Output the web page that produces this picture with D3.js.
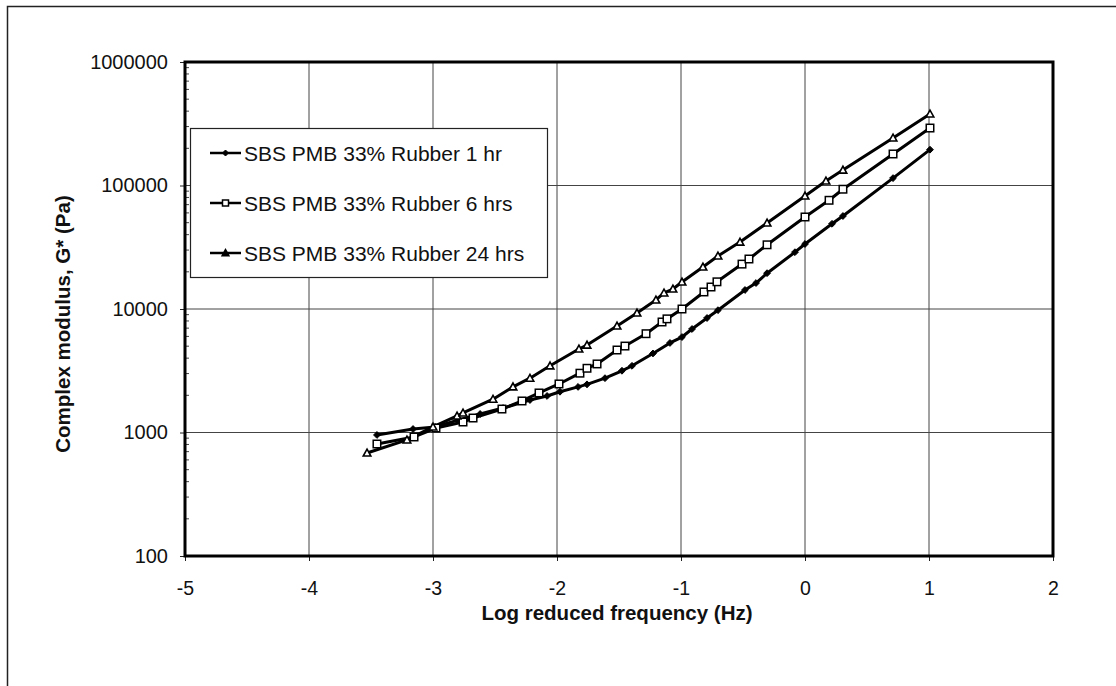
<!DOCTYPE html>
<html>
<head>
<meta charset="utf-8">
<script src="https://cdn.jsdelivr.net/npm/d3@7"></script>
<style>
  html, body { margin: 0; padding: 0; background: #fff; }
  svg { display: block; }
  text { font-family: Arial, "Liberation Sans", Helvetica, sans-serif; fill: #111; }
</style>
</head>
<body>
<svg id="chart" width="1116" height="686"></svg>
<script>
// Log reduced frequency (Hz) and complex modulus G* (Pa) for each ageing time
const freq1h = [-3.452, -3.161, -2.984, -2.80, -2.62, -2.435, -2.218, -2.08, -1.976, -1.83, -1.758, -1.613, -1.476, -1.395, -1.226, -1.089, -0.992, -0.911, -0.79, -0.702, -0.484, -0.395, -0.306, -0.081, 0.0, 0.218, 0.306, 0.71, 1.008];
const g1h = [955, 1067, 1109, 1260, 1413, 1578, 1832, 1976, 2138, 2340, 2455, 2754, 3162, 3467, 4365, 5309, 5929, 6887, 8455, 9780, 14250, 16230, 19500, 28840, 33600, 48980, 56620, 114800, 195000];

const freq6h = [-3.452, -3.153, -2.976, -2.758, -2.677, -2.444, -2.282, -2.145, -1.984, -1.815, -1.758, -1.677, -1.516, -1.452, -1.282, -1.153, -1.113, -0.992, -0.815, -0.758, -0.71, -0.508, -0.452, -0.306, 0.0, 0.194, 0.306, 0.71, 1.008];
const g6h = [807, 920, 1087, 1216, 1310, 1549, 1800, 2090, 2472, 3022, 3311, 3590, 4656, 5012, 6310, 7850, 8320, 10000, 13740, 15070, 16600, 23100, 25400, 33100, 55600, 75900, 93300, 180000, 292000];

const freq24h = [-3.532, -3.21, -3.0, -2.806, -2.758, -2.516, -2.355, -2.218, -2.056, -1.823, -1.758, -1.516, -1.355, -1.202, -1.137, -1.065, -0.992, -0.823, -0.702, -0.524, -0.306, 0.0, 0.169, 0.306, 0.71, 1.008];
const g24h = [682, 871, 1110, 1361, 1440, 1862, 2344, 2754, 3467, 4742, 5105, 7280, 9290, 11830, 13490, 14520, 16550, 21880, 26900, 34830, 49700, 82200, 108700, 133400, 242700, 380000];

const seriesNames = ["SBS PMB 33% Rubber 1 hr", "SBS PMB 33% Rubber 6 hrs", "SBS PMB 33% Rubber 24 hrs"];
const xTicks = [-5, -4, -3, -2, -1, 0, 1, 2];
const yTicks = [100, 1000, 10000, 100000, 1000000];
const xTitle = "Log reduced frequency (Hz)";
const yTitle = "Complex modulus, G* (Pa)";

const series = [
  { name: seriesNames[0], x: freq1h, y: g1h, marker: "diamond" },
  { name: seriesNames[1], x: freq6h, y: g6h, marker: "square" },
  { name: seriesNames[2], x: freq24h, y: g24h, marker: "triangle" }
];

const svg = d3.select("#chart");
const plot = { left: 185, top: 62, right: 1053, bottom: 556 };

const x = d3.scaleLinear().domain([-5, 2]).range([plot.left, plot.right]);
const y = d3.scaleLog().domain([100, 1000000]).range([plot.bottom, plot.top]);

// outer frame of the figure (only the left and top edges fall inside the view)
svg.append("path")
  .attr("d", `M7.5,690 L7.5,6.5 L1120,6.5`)
  .attr("fill", "none").attr("stroke", "#222").attr("stroke-width", 1.5);

// gridlines
const grid = svg.append("g").attr("stroke", "#444").attr("stroke-width", 1);
xTicks.slice(1, -1).forEach(t => {
  grid.append("line").attr("x1", x(t)).attr("x2", x(t)).attr("y1", plot.top).attr("y2", plot.bottom);
});
yTicks.slice(1, -1).forEach(t => {
  grid.append("line").attr("y1", y(t)).attr("y2", y(t)).attr("x1", plot.left).attr("x2", plot.right);
});

// minor log ticks inside the left axis
const minor = [];
for (let d = 100; d < 1000000; d *= 10) for (let k = 2; k <= 9; k++) minor.push(d * k);
svg.append("g").selectAll("line").data(minor).join("line")
  .attr("x1", plot.left).attr("x2", plot.left + 4)
  .attr("y1", d => y(d)).attr("y2", d => y(d))
  .attr("stroke", "#444").attr("stroke-width", 1);

// axes
const xAxis = d3.axisBottom(x).tickValues(xTicks).tickSize(5).tickPadding(20).tickFormat(d3.format("d"));
const yAxis = d3.axisLeft(y).tickValues(yTicks).tickSize(5).tickPadding(12).tickFormat(d3.format("d"));

const gx = svg.append("g").attr("transform", `translate(0,${plot.bottom})`).call(xAxis);
const gy = svg.append("g").attr("transform", `translate(${plot.left},0)`).call(yAxis);
[gx, gy].forEach(g => {
  g.select(".domain").remove();
  g.selectAll(".tick line").attr("stroke", "#222").attr("stroke-width", 1);
  g.selectAll(".tick text").attr("fill", "#111")
    .style("font-family", "Arial, 'Liberation Sans', sans-serif");
});
gy.selectAll(".tick text").attr("font-size", 20);
gx.selectAll(".tick text").attr("font-size", 19.5)
  .text(d => d < 0 ? "-" + Math.abs(d) : String(d));

// plot frame
svg.append("rect")
  .attr("x", plot.left).attr("y", plot.top)
  .attr("width", plot.right - plot.left).attr("height", plot.bottom - plot.top)
  .attr("fill", "none").attr("stroke", "#000").attr("stroke-width", 3);

// axis titles
svg.append("text")
  .attr("x", (plot.left + plot.right) / 2 - 2).attr("y", 620)
  .attr("text-anchor", "middle").attr("font-size", 20.5).attr("font-weight", "bold")
  .text(xTitle);
svg.append("text")
  .attr("transform", `translate(70,${(plot.top + plot.bottom) / 2 + 15}) rotate(-90)`)
  .attr("text-anchor", "middle").attr("font-size", 20.5).attr("font-weight", "bold")
  .text(yTitle);

// markers
function drawMarker(g, type, cx, cy, legend) {
  if (type === "diamond") {
    const r = legend ? 3 : 3.4;
    g.append("path")
      .attr("d", `M${cx},${cy - r} L${cx + r},${cy} L${cx},${cy + r} L${cx - r},${cy} Z`)
      .attr("fill", "#000").attr("stroke", "#000").attr("stroke-width", 1);
  } else if (type === "square") {
    const s = legend ? 6 : 7.5;
    g.append("rect")
      .attr("x", cx - s / 2).attr("y", cy - s / 2).attr("width", s).attr("height", s)
      .attr("fill", "#fff").attr("stroke", "#000").attr("stroke-width", 1.5);
  } else {
    const r = legend ? 3.3 : 3.8;
    g.append("path")
      .attr("d", `M${cx},${cy - r} L${cx + r},${cy + r * 0.8} L${cx - r},${cy + r * 0.8} Z`)
      .attr("fill", legend ? "#000" : "#fff").attr("stroke", "#000").attr("stroke-width", 1.6);
  }
}

const line = d3.line().x(d => x(d[0])).y(d => y(d[1]));
const dataG = svg.append("g");
series.forEach(s => {
  const pts = s.x.map((v, i) => [v, s.y[i]]);
  dataG.append("path").datum(pts)
    .attr("d", line).attr("fill", "none")
    .attr("stroke", "#000").attr("stroke-width", 3).attr("stroke-linejoin", "round");
});
series.forEach(s => {
  const mg = dataG.append("g");
  s.x.forEach((v, i) => drawMarker(mg, s.marker, x(v), y(s.y[i]), false));
});

// legend
const lg = svg.append("g");
lg.append("rect").attr("x", 190.5).attr("y", 128.5).attr("width", 357).attr("height", 149)
  .attr("fill", "#fff").attr("stroke", "#222").attr("stroke-width", 1.2);
series.forEach((s, i) => {
  const cy = 153 + i * 50;
  lg.append("line").attr("x1", 210).attr("x2", 241).attr("y1", cy).attr("y2", cy)
    .attr("stroke", "#000").attr("stroke-width", 2.5);
  drawMarker(lg, s.marker, 225.5, cy, true);
  lg.append("text").attr("x", 244).attr("y", cy + 7.5).attr("font-size", 21).text(s.name);
});
</script>
</body>
</html>
